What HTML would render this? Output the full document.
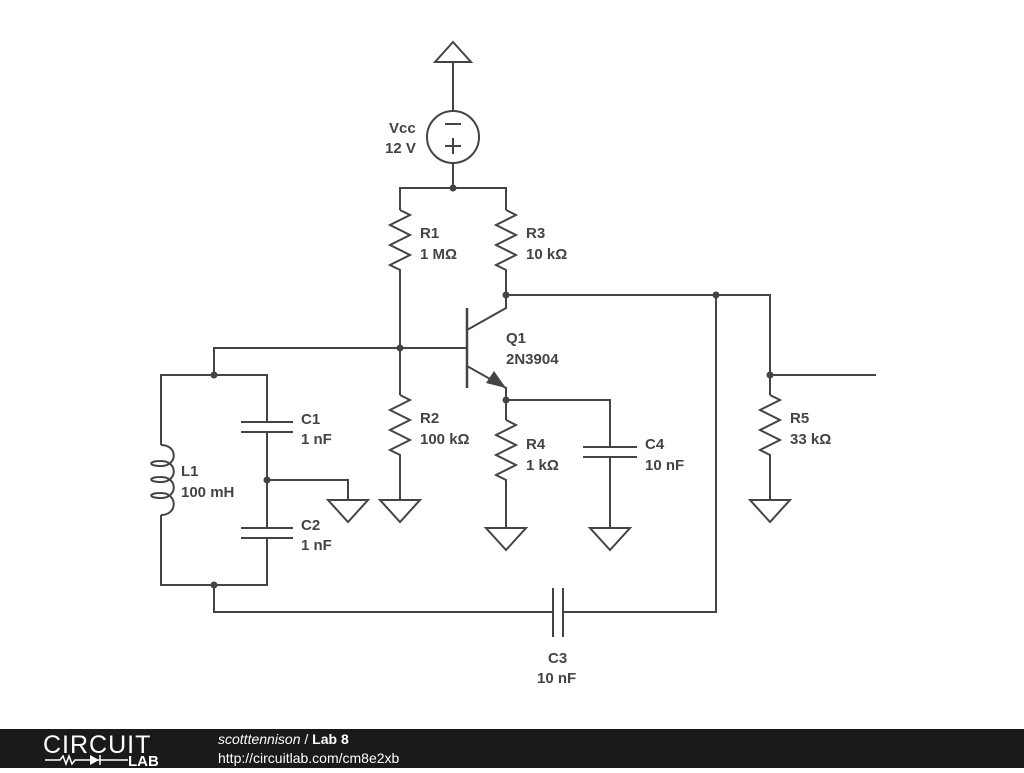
<!DOCTYPE html>
<html><head><style>
body{margin:0;width:1024px;height:768px;background:#fff;overflow:hidden;font-family:"Liberation Sans",sans-serif}
svg text{font-family:"Liberation Sans",sans-serif;font-weight:bold;font-size:15px;fill:#444}
</style></head><body>
<svg width="1024" height="768" viewBox="0 0 1024 768" xmlns="http://www.w3.org/2000/svg">
<g stroke="#444" stroke-width="2" fill="none" stroke-linejoin="miter">
<polygon points="453,42 435,62 471,62"/>
<line x1="453" y1="62" x2="453" y2="111"/>
<circle cx="453" cy="137" r="26"/>
<line x1="445" y1="124" x2="461" y2="124"/>
<line x1="445" y1="146" x2="461" y2="146"/><line x1="453" y1="138" x2="453" y2="154"/>
<polyline points="453,163 453,188"/>
<polyline points="400,210 400,188 506,188 506,210"/>
<polyline points="400,210 410,215 390,225 410,235 390,245 410,255 390,265 400,270 400,395"/>
<polyline points="400,395 410,400 390,410 410,420 390,430 410,440 390,450 400,455 400,500"/>
<polygon points="380,500 420,500 400,522"/>
<polyline points="506,210 516,215 496,225 516,235 496,245 516,255 496,265 506,270 506,308 467,330"/>
<polyline points="506,295 770,295 770,395"/>
<polyline points="770,375 876,375"/>
<polyline points="770,395 780,400 760,410 780,420 760,430 780,440 760,450 770,455 770,500"/>
<polygon points="750,500 790,500 770,522"/>
<line x1="467" y1="308" x2="467" y2="388" stroke-width="2.5"/>
<polyline points="214,375 214,348 467,348"/>
<polyline points="467,366 506,388 506,420"/>
<polyline points="506,420 516,425 496,435 516,445 496,455 516,465 496,475 506,480 506,528"/>
<polygon points="486,528 526,528 506,550"/>
<polyline points="506,400 610,400 610,447"/>
<line x1="583" y1="447" x2="637" y2="447"/><line x1="583" y1="457" x2="637" y2="457"/>
<polyline points="610,457 610,528"/>
<polygon points="590,528 630,528 610,550"/>
<polyline points="161,445 161,375 267,375 267,422"/>
<line x1="241" y1="422" x2="293" y2="422"/><line x1="241" y1="432" x2="293" y2="432"/>
<polyline points="267,432 267,528"/>
<polyline points="267,480 348,480 348,500"/>
<polygon points="328,500 368,500 348,522"/>
<line x1="241" y1="528" x2="293" y2="528"/><line x1="241" y1="538" x2="293" y2="538"/>
<polyline points="267,538 267,585 161,585 161,515"/>
<path d="M161,445 C178,445 178,466 161,466 C148,466 148,461 161,461 C178,461 178,482 161,482 C148,482 148,477 161,477 C178,477 178,498 161,498 C148,498 148,493 161,493 C178,493 178,515 161,515"/>
<polyline points="214,585 214,612 553,612"/>
<line x1="553" y1="588" x2="553" y2="637"/><line x1="563" y1="588" x2="563" y2="637"/>
<polyline points="563,612 716,612 716,295"/>
</g>
<polygon points="506,388 486,383 494,371" fill="#444"/>
<g fill="#444">
<circle cx="453" cy="188" r="3.5"/><circle cx="400" cy="348" r="3.5"/><circle cx="506" cy="295" r="3.5"/>
<circle cx="716" cy="295" r="3.5"/><circle cx="770" cy="375" r="3.5"/><circle cx="506" cy="400" r="3.5"/>
<circle cx="214" cy="375" r="3.5"/><circle cx="267" cy="480" r="3.5"/><circle cx="214" cy="585" r="3.5"/>
</g>
<text x="389" y="133">Vcc</text><text x="385" y="153">12 V</text>
<text x="420" y="238">R1</text><text x="420" y="259">1 MΩ</text>
<text x="526" y="238">R3</text><text x="526" y="259">10 kΩ</text>
<text x="506" y="343">Q1</text><text x="506" y="364">2N3904</text>
<text x="420" y="423">R2</text><text x="420" y="444">100 kΩ</text>
<text x="526" y="449">R4</text><text x="526" y="470">1 kΩ</text>
<text x="645" y="449">C4</text><text x="645" y="470">10 nF</text>
<text x="790" y="423">R5</text><text x="790" y="444">33 kΩ</text>
<text x="301" y="424">C1</text><text x="301" y="444">1 nF</text>
<text x="181" y="476">L1</text><text x="181" y="497">100 mH</text>
<text x="301" y="530">C2</text><text x="301" y="550">1 nF</text>
<text x="548" y="663">C3</text><text x="537" y="683">10 nF</text>
<rect x="0" y="729" width="1024" height="39" fill="#1a1a1a"/>
<text x="43" y="753" style="font-weight:normal;font-size:25px;fill:#fff;letter-spacing:1px">CIRCUIT</text>
<path d="M45,760 H60 l3,-4 3,8 3,-8 3,8 3,-4 H100 M100,755 v10 M100,760 H128" stroke="#fff" stroke-width="1.5" fill="none"/>
<polygon points="90,755 90,765 99,760" fill="#fff"/>
<text x="128" y="766" style="font-size:15px;fill:#fff">LAB</text>
<text x="218" y="744" style="font-weight:normal;font-size:14px;fill:#fff"><tspan font-style="italic">scotttennison</tspan> / <tspan font-weight="bold">Lab 8</tspan></text>
<text x="218" y="763" style="font-weight:normal;font-size:14px;fill:#fff">http://circuitlab.com/cm8e2xb</text>
</svg>
</body></html>
